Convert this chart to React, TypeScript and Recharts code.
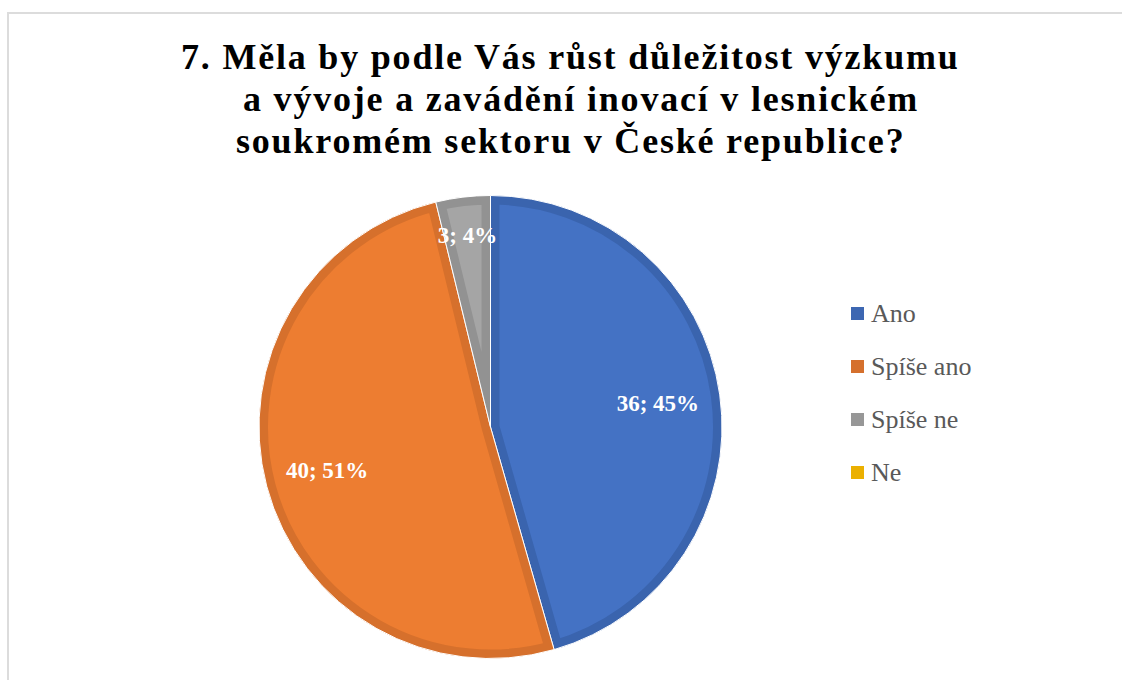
import React from 'react';
import { PieChart, Pie, Cell, Legend, Sector } from 'recharts';

const categories = ['Ano', 'Spíše ano', 'Spíše ne', 'Ne'];
const counts = [36, 40, 3, 0];
const percentLabels = ['45%', '51%', '4%', '0%'];
const titleLines = [
  '7. Měla by podle Vás růst důležitost výzkumu',
  'a vývoje a zavádění inovací v lesnickém',
  'soukromém sektoru v České republice?',
];

const fillColors = ['#4472C4', '#ED7D31', '#A5A5A5', '#FFC000'];
const borderColors = ['#3A64AE', '#D6702C', '#929292', '#E6AC00'];
const legendColors = ['#3D67B2', '#D5702D', '#979797', '#EBB000'];

const data = categories.map((name, i) => ({ name, value: counts[i] }));

const SERIF = "'Liberation Serif', 'Times New Roman', serif";
const RAD = Math.PI / 180;

const renderSlice = (props: any) => {
  const { cx, cy, innerRadius, outerRadius, startAngle, endAngle } = props;
  const idx = typeof props.index === 'number' ? props.index : categories.indexOf(props.name);
  if (Math.abs(endAngle - startAngle) < 0.01) return <g />;
  const id = `slice-clip-${idx}`;
  return (
    <g>
      <defs>
        <clipPath id={id}>
          <Sector cx={cx} cy={cy} innerRadius={innerRadius} outerRadius={outerRadius} startAngle={startAngle} endAngle={endAngle} />
        </clipPath>
      </defs>
      <Sector
        cx={cx}
        cy={cy}
        innerRadius={innerRadius}
        outerRadius={outerRadius}
        startAngle={startAngle}
        endAngle={endAngle}
        fill={fillColors[idx]}
        stroke={borderColors[idx]}
        strokeWidth={18}
        clipPath={`url(#${id})`}
      />
      <Sector
        cx={cx}
        cy={cy}
        innerRadius={innerRadius}
        outerRadius={outerRadius}
        startAngle={startAngle}
        endAngle={endAngle}
        fill="none"
        stroke="#ffffff"
        strokeWidth={1}
      />
    </g>
  );
};

const renderLabel = (props: any) => {
  const { cx, cy, midAngle, outerRadius, percent, value, index } = props;
  if (!value) return null;
  const r = outerRadius * (percent < 0.1 ? 0.835 : 0.73);
  const x = cx + r * Math.cos(-midAngle * RAD);
  const y = cy + r * Math.sin(-midAngle * RAD);
  return (
    <text
      x={x}
      y={y}
      fill="#ffffff"
      textAnchor="middle"
      dominantBaseline="central"
      fontFamily={SERIF}
      fontWeight="bold"
      fontSize={23}
    >
      {`${value}; ${percentLabels[index]}`}
    </text>
  );
};

const LegendContent = () => (
  <div style={{ fontFamily: SERIF, fontSize: 26, color: '#595959' }}>
    {categories.map((c, i) => (
      <div key={c} style={{ height: 53, display: 'flex', alignItems: 'center' }}>
        <span style={{ display: 'inline-block', width: 13, height: 13, background: legendColors[i], marginRight: 7 }} />
        <span style={{ lineHeight: '26px' }}>{c}</span>
      </div>
    ))}
  </div>
);

export default function App() {
  return (
    <div style={{ position: 'relative', width: 1122, height: 680, overflow: 'hidden', background: '#ffffff' }}>
      <style>{`body{margin:0;}`}</style>
      <div
        style={{
          position: 'absolute',
          left: 7,
          top: 12,
          width: 1300,
          height: 900,
          borderTop: '2px solid #dcdcdc',
          borderLeft: '2px solid #dcdcdc',
        }}
      />
      <svg width={1122} height={200} style={{ position: 'absolute', left: 0, top: 0 }}>
        {titleLines.map((t, i) => (
          <text
            key={i}
            x={[181, 243, 236][i]}
            y={69 + i * 42}
            textAnchor="start"
            fontFamily={SERIF}
            fontWeight="bold"
            fontSize={36}
            letterSpacing={1.8}
            fill="#000000"
          >
            {t}
          </text>
        ))}
      </svg>
      <div style={{ position: 'absolute', left: 0, top: 0 }}>
        <PieChart width={1122} height={680} margin={{ top: 0, right: 0, bottom: 0, left: 0 }}>
          <Pie
            data={data}
            dataKey="value"
            nameKey="name"
            cx={490.5}
            cy={427}
            outerRadius={231.5}
            startAngle={90}
            endAngle={-270}
            isAnimationActive={false}
            stroke="#ffffff"
            strokeWidth={1}
            shape={renderSlice}
            label={renderLabel}
            labelLine={false}
          >
            {data.map((d, i) => (
              <Cell key={d.name} fill={fillColors[i]} />
            ))}
          </Pie>
          <Legend
            layout="vertical"
            align="right"
            verticalAlign="top"
            content={() => <LegendContent />}
            wrapperStyle={{ left: 851, top: 287, width: 240, right: 'auto' }}
          />
        </PieChart>
      </div>
    </div>
  );
}
